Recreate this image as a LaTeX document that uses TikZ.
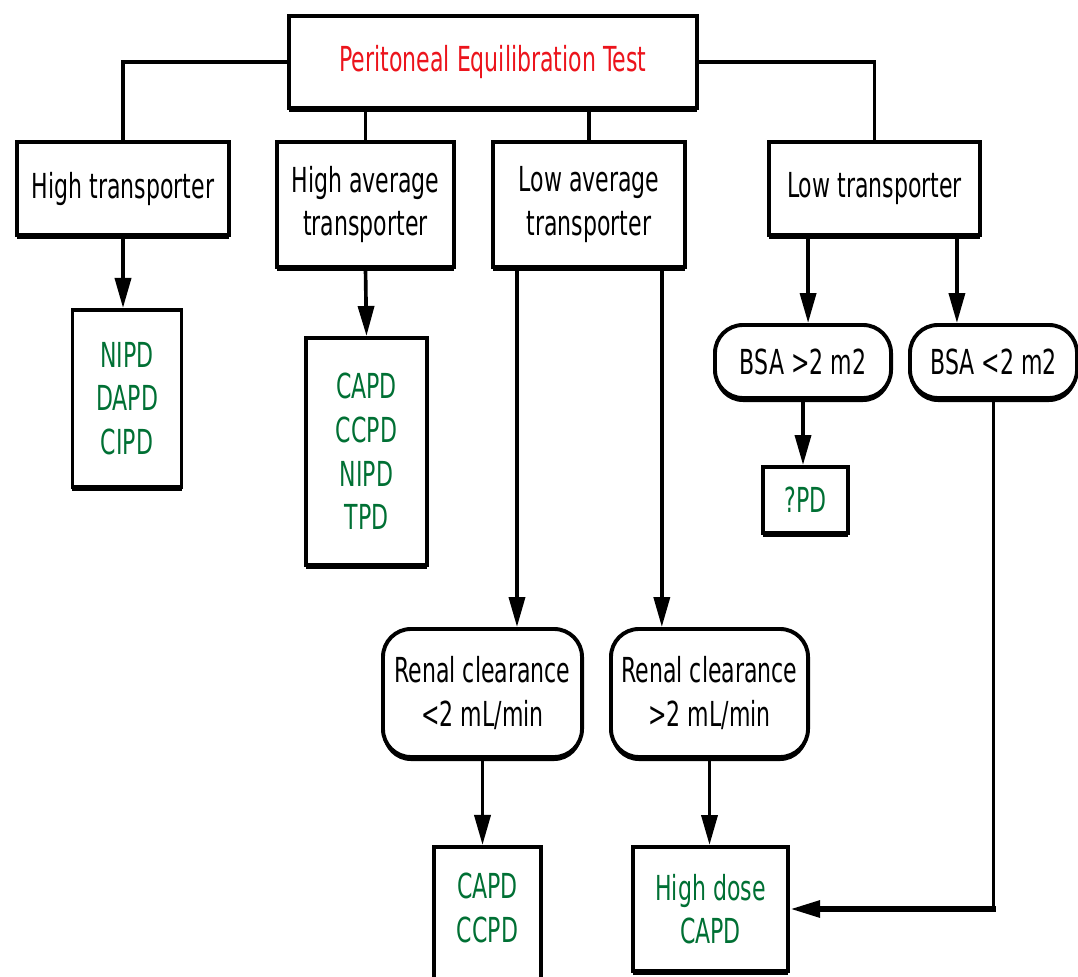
\documentclass[tikz,border=0pt]{standalone}
\usepackage{fontspec}
\setmainfont{DejaVu Sans}[FakeStretch=0.64]
\definecolor{petred}{RGB}{236,20,28}
\definecolor{pdgreen}{RGB}{0,112,52}
\usetikzlibrary{arrows.meta,shadows}

\begin{document}
\begin{tikzpicture}[x=0.025cm,y=-0.025cm,
    font=\fontsize{24.5}{31}\selectfont,
    box/.style={draw,line width=2.8pt,fill=white,align=center,inner sep=2pt,
      drop shadow={shadow xshift=0pt,shadow yshift=-0.1cm,opacity=1,fill=black}},
    choice/.style={box,rounded corners=0.7cm},
    pd/.style={box,text=pdgreen},
    link/.style={line width=2.6pt},
    arr/.style={link,-{Triangle[length=0.75cm,width=0.4cm]}}]
        \useasboundingbox (0,0) rectangle (1078,977);
        \clip (0,0) rectangle (1078,977);
        \node[box,text=petred,minimum width=10.2cm,minimum height=2.3cm] (pet) at (493,62) {Peritoneal Equilibration Test};
        \node[box,minimum width=5.3cm,minimum height=2.325cm] (ht) at (123,188.5) {High transporter};
        \node[box,minimum width=4.425cm,minimum height=3.125cm] (hat) at (365.5,204.5) {High average\\transporter};
        \node[box,minimum width=4.8cm,minimum height=3.125cm] (lat) at (589,204.5) {Low average\\transporter};
        \node[box,minimum width=5.275cm,minimum height=2.325cm] (lt) at (874.5,188.5) {Low transporter};
        \node[pd,minimum width=2.725cm,minimum height=4.425cm] (nipd) at (127,398.5) {NIPD\\DAPD\\CIPD};
        \node[pd,minimum width=3.025cm,minimum height=5.675cm] (capda) at (366.5,451.5) {CAPD\\CCPD\\NIPD\\TPD};
        \node[choice,minimum width=4.4cm,minimum height=1.825cm] (bsaa) at (803,361.5) {BSA >2 m2};
        \node[choice,minimum width=4.175cm,minimum height=1.825cm] (bsab) at (993.5,361.5) {BSA <2 m2};
        \node[pd,minimum width=2.125cm,minimum height=1.65cm] (qpd) at (805.5,500) {?PD};
        \node[choice,minimum width=4.975cm,minimum height=3.2cm] (rena) at (482.5,693) {Renal clearance\\<2 mL/min};
        \node[choice,minimum width=4.925cm,minimum height=3.2cm] (renb) at (709.5,693) {Renal clearance\\>2 mL/min};
        \node[pd,minimum width=2.675cm,minimum height=4.5cm,anchor=north,
          label={[text=pdgreen,align=center,inner sep=0pt,anchor=north,yshift=-0.7cm]north:CAPD\\CCPD}] (capdb) at (487.5,845) {};
        \node[pd,minimum width=3.875cm,minimum height=3.1cm] (hdc) at (710.5,909) {High dose\\CAPD};
        \coordinate (turn) at (bsab.south |- hdc.east);
        \draw[link] (pet.west) -| (ht.north);
        \draw[link] (pet.east) -| (lt.north);
        \draw[link] (hat.north |- pet.south) -- (hat.north);
        \draw[link] (lat.north |- pet.south) -- (lat.north);
        \draw[arr] (ht.south) -- (ht.south |- nipd.north);
        \draw[arr] (hat.south) -- (capda.north);
        \draw[arr] ([xshift=-1.8cm]lat.south) -- ([xshift=-1.8cm]lat.south |- rena.north);
        \draw[arr] ([xshift=1.82cm]lat.south) -- ([xshift=1.82cm]lat.south |- renb.north);
        \draw[arr] ([xshift=-1.66cm]lt.south) -- ([xshift=-1.66cm]lt.south |- bsaa.north);
        \draw[arr] ([xshift=2.06cm]lt.south) -- ([xshift=2.06cm]lt.south |- bsab.north);
        \draw[arr] (bsaa.south) -- (bsaa.south |- qpd.north);
        \draw[arr] (rena.south) -- (rena.south |- capdb.north);
        \draw[arr] (renb.south) -- (renb.south |- hdc.north);
        \draw[link] (bsab.south) -- (turn);
        \draw[arr,line width=4pt] ([xshift=1.5pt]turn) -- (hdc.east);
      \end{tikzpicture}
\end{document}
